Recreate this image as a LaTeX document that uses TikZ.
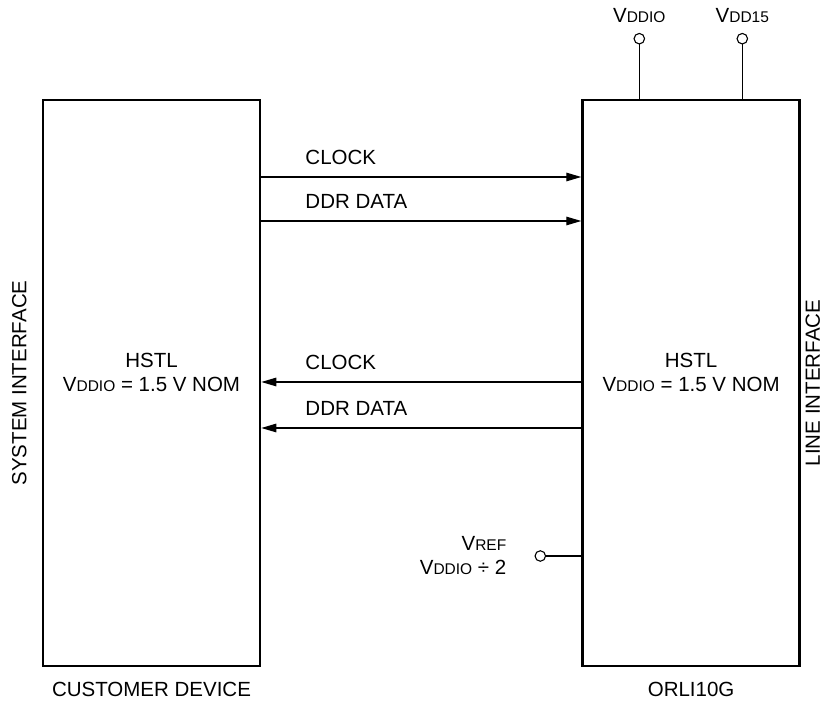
\documentclass[tikz,border=0pt]{standalone}
\usepackage{fontspec}
\setmainfont{Liberation Sans}
\usetikzlibrary{positioning,arrows.meta}
\newcommand{\vsub}[1]{V{\fontsize{15.5}{18}\selectfont #1}}

\begin{document}
\begin{tikzpicture}[x=1pt,y=1pt,node distance=10pt,
        font=\fontsize{20.5}{24}\selectfont,
        block/.style={rectangle,draw,line width=2.6pt,minimum width=217pt,minimum height=566pt},
        txt/.style={align=center,inner sep=0pt},
        lbl/.style={anchor=south west,inner sep=0pt,yshift=11.5pt},
        term/.style={circle,draw,line width=1.1pt,fill=white,minimum size=10.5pt,inner sep=0pt},
        sig/.style={line width=1.3pt,-{Triangle[length=15pt,width=8.5pt]}}]
    \useasboundingbox (0,0) rectangle (825,705);

    \node[block] (cust) at (151.5,322) {};
    \node[block] (orli) [right=320pt of cust] {};

    \node[txt] (custtxt) at ([yshift=11pt]cust.center) {HSTL\\\vsub{DDIO} = 1.5 V NOM};
    \node[txt] (orlitxt) at ([yshift=11pt]orli.center) {HSTL\\\vsub{DDIO} = 1.5 V NOM};
    \node[txt] (custlbl) [below=15pt of cust] {CUSTOMER DEVICE};
    \node[txt] (orlilbl) [below=15pt of orli] {ORLI10G};
    \node[txt,rotate=90,anchor=south] (sysif) at ([xshift=-15pt]cust.west) {SYSTEM INTERFACE};
    \node[txt,rotate=90,anchor=north] (lineif) at ([xshift=4.5pt]orli.east) {LINE INTERFACE};

    \path[sig]
    ([yshift=206pt]cust.east) edge node[lbl,pos=.136] {CLOCK} ([yshift=206pt]orli.west)
    ([yshift=162pt]cust.east) edge node[lbl,pos=.136] {DDR DATA} ([yshift=162pt]orli.west)
    ([yshift=1pt]orli.west) edge node[lbl,pos=.864] {CLOCK} ([yshift=1pt]cust.east)
    ([yshift=-45pt]orli.west) edge node[lbl,pos=.864] {DDR DATA} ([yshift=-45pt]cust.east);

    \node[term] (vddio) at ([xshift=58pt,yshift=60pt]orli.north west) {};
    \node[term] (vdd15) at ([xshift=161pt,yshift=60pt]orli.north west) {};
    \node[term] (vref) at ([xshift=-41pt,yshift=-173pt]orli.west) {};
    \node[txt] (vddiolbl) [above=10pt of vddio] {\vsub{DDIO}};
    \node[txt] (vdd15lbl) [above=10pt of vdd15] {\vsub{DD15}};
    \node[txt,align=right] (vreflbl) [left=28pt of vref] {\vsub{REF}\\\vsub{DDIO} ÷ 2};

    \path[line width=1.3pt]
    (vddio) edge (vddio |- orli.north)
    (vdd15) edge (vdd15 |- orli.north)
    (vref) edge (vref -| orli.west);
\end{tikzpicture}
\end{document}
